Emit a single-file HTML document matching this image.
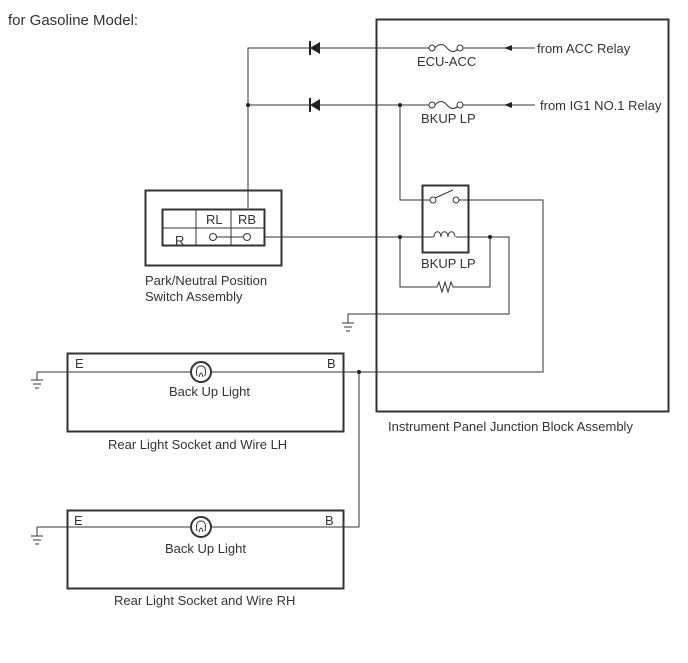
<!DOCTYPE html>
<html><head><style>body{margin:0;background:#fff}</style></head><body>
<svg width="688" height="658" viewBox="0 0 688 658" xmlns="http://www.w3.org/2000/svg" font-family="Liberation Sans, sans-serif" font-size="13" fill="#333">
<rect width="688" height="658" fill="#fff"/>
<text x="8" y="25" font-size="15">for Gasoline Model:</text>
<g fill="none" stroke="#333" stroke-width="1">
<rect x="376.5" y="19.5" width="292" height="392" stroke-width="2"/>
<path d="M248 208V48H429M462 48H535"/>
<path d="M248 105H429M462 105H535"/>
<path d="M435 48q6 -7 12 0q6 7 12 0"/>
<path d="M435 105q6 -7 12 0q6 7 12 0"/>
<circle cx="432" cy="48" r="3" fill="#fff"/><circle cx="460" cy="48" r="3" fill="#fff"/>
<circle cx="432" cy="105" r="3" fill="#fff"/><circle cx="460" cy="105" r="3" fill="#fff"/>
<path d="M400 105V200H430M459 200H543V372H343"/>
<rect x="422.5" y="185.5" width="46" height="67" stroke-width="2"/>
<circle cx="433" cy="200" r="3" fill="#fff"/><circle cx="456" cy="200" r="3" fill="#fff"/>
<path d="M435 198L453 190"/>
<path d="M265 237H434M456 237H509V314H348V323"/>
<path d="M434 237c0-7 7-7 7 0c0-7 7-7 7 0c0-7 7-7 7 0"/>
<path d="M400 237V287H437l2-5 3 10 3-10 3 10 3-10 2 5H490V237"/>
<path d="M359 372V527H343"/>
<path d="M342 323H354M344 327H352M346 331H350"/>
<path d="M37 372V380M31 380H43M33 384H41M35 388H39"/>
<path d="M37 372H67M37 527V536M31 536H43M33 540H41M35 544H39M37 527H67"/>
<rect x="145.5" y="190.5" width="136" height="75" stroke-width="2"/>
<rect x="162.5" y="209.5" width="102" height="36" stroke-width="2"/>
<path d="M163 228H265M196 210V245M231 210V245"/>
<path d="M216 237H244"/>
<circle cx="213" cy="237" r="3.5" fill="#fff"/><circle cx="247" cy="237" r="3.5" fill="#fff"/>
<rect x="67.5" y="353.5" width="276" height="78" stroke-width="2"/>
<path d="M67 372H343"/>
<circle cx="201" cy="372" r="10" fill="#fff" stroke-width="2"/>
<path d="M197 376q-2-10 4-10q6 0 4 10M199 377q2-8 4 0"/>
<rect x="67.5" y="510.5" width="276" height="78" stroke-width="2"/>
<path d="M67 527H359"/>
<circle cx="201" cy="527" r="10" fill="#fff" stroke-width="2"/>
<path d="M197 531q-2-10 4-10q6 0 4 10M199 532q2-8 4 0"/>
</g>
<path d="M320 42V54L310 48Z" fill="#222"/><path d="M310 41V55" stroke="#222" stroke-width="2"/>
<path d="M320 99V111L310 105Z" fill="#222"/><path d="M310 98V112" stroke="#222" stroke-width="2"/>
<path d="M504 48L512 45V51Z" fill="#222"/>
<path d="M504 105L512 102V108Z" fill="#222"/>
<g fill="#222">
<circle cx="248" cy="105" r="2"/><circle cx="400" cy="105" r="2"/>
<circle cx="400" cy="237" r="2"/><circle cx="490" cy="237" r="2"/>
<circle cx="359" cy="372" r="2"/>
</g>
<text x="417" y="66">ECU-ACC</text>
<text x="537" y="53">from ACC Relay</text>
<text x="421" y="123">BKUP LP</text>
<text x="540" y="110">from IG1 NO.1 Relay</text>
<text x="421" y="268">BKUP LP</text>
<text x="206" y="224">RL</text><text x="238" y="224">RB</text><text x="175" y="245">R</text>
<text x="145" y="285">Park/Neutral Position</text>
<text x="145" y="301">Switch Assembly</text>
<text x="388" y="431">Instrument Panel Junction Block Assembly</text>
<text x="75" y="368">E</text><text x="327" y="368">B</text>
<text x="169" y="396">Back Up Light</text>
<text x="108" y="449">Rear Light Socket and Wire LH</text>
<text x="74" y="525">E</text><text x="325" y="525">B</text>
<text x="165" y="553">Back Up Light</text>
<text x="114" y="605">Rear Light Socket and Wire RH</text>
</svg>
</body></html>
